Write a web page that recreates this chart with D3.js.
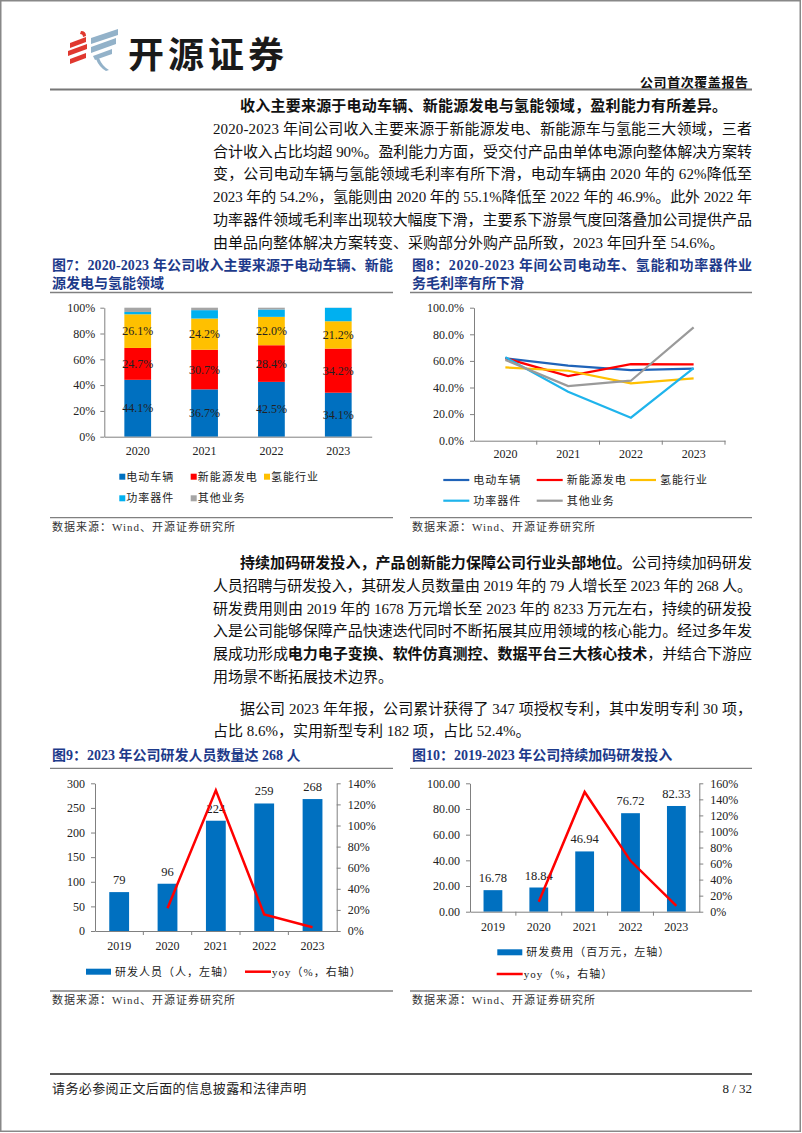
<!DOCTYPE html>
<html>
<head>
<meta charset="utf-8">
<script src="https://cdn.jsdelivr.net/npm/d3@7"></script>
<style>
  body { margin: 0; background: #fff; }
  svg { display: block; }
</style>
</head>
<body>
<svg id="page" width="802" height="1133"></svg>
<script>
// ---------- 数据 ----------
// 图7 收入结构（%）
const years7 = ["2020", "2021", "2022", "2023"];
const segNames7 = ["电动车辆", "新能源发电", "氢能行业", "功率器件", "其他业务"];
const ev7 = [44.1, 36.7, 42.5, 34.1];
const pv7 = [24.7, 30.7, 28.4, 34.2];
const h27 = [26.1, 24.2, 22.0, 21.2];
const pd7 = [1.8, 6.5, 5.7, 10.4];
const oth7 = [3.3, 1.9, 1.4, 0.1];

// 图8 毛利率（%）
const years8 = ["2020", "2021", "2022", "2023"];
const gmEv = [62.0, 56.4, 53.1, 54.2];
const gmPv = [62.0, 48.6, 57.6, 57.4];
const gmH2 = [55.1, 52.6, 43.1, 46.9];
const gmPd = [62.7, 36.8, 17.3, 54.6];
const gmOth = [60.7, 41.1, 45.1, 85.2];

// 图9 研发人员
const years9 = ["2019", "2020", "2021", "2022", "2023"];
const rdStaff = [79, 96, 224, 259, 268];
const rdStaffYoy = [null, 21.5, 133.3, 15.6, 3.5];

// 图10 研发费用（百万元）
const years10 = ["2019", "2020", "2021", "2022", "2023"];
const rdExp = [16.78, 18.84, 46.94, 76.72, 82.33];
const rdExpYoy = [null, 12.3, 149.2, 63.4, 7.3];

// ---------- 通用 ----------
const SERIF = '"Liberation Serif","Noto Sans CJK SC",serif';
const SANS = '"Noto Sans CJK SC","Noto Sans",sans-serif';
const NAVY = "#1d3a8a";
const AXIS = "#808080";
const svg = d3.select("#page").attr("font-family", SERIF);

function textLine(x, y, segs, o = {}) {
  const t = svg.append("text")
    .attr("x", x).attr("y", y)
    .attr("dominant-baseline", "central")
    .attr("font-size", o.size || 15)
    .attr("fill", o.fill || "#111");
  if (o.anchor) t.attr("text-anchor", o.anchor);
  if (o.width) t.attr("textLength", o.width).attr("lengthAdjust", "spacing");
  if (o.ls) t.attr("letter-spacing", o.ls);
  segs.forEach(s => t.append("tspan").attr("font-weight", s[1] ? "bold" : "normal").text(s[0]));
  return t;
}

function hline(x1, x2, y, color, w) {
  svg.append("line").attr("x1", x1).attr("x2", x2).attr("y1", y).attr("y2", y)
    .attr("stroke", color).attr("stroke-width", w);
}

function styleAxis(g) {
  g.attr("font-family", SERIF).attr("font-size", 12);
  g.select(".domain").attr("stroke", AXIS);
  g.selectAll(".tick line").attr("stroke", AXIS);
  g.selectAll(".tick text").attr("fill", "#222");
}

function boundaryTicks(g, x, y0) {
  const gap = (x.step() - x.bandwidth()) / 2;
  x.domain().forEach((d, i) => {
    if (i === 0) return;
    g.append("line").attr("x1", x(d) - gap).attr("x2", x(d) - gap)
      .attr("y1", y0).attr("y2", y0 + 4).attr("stroke", AXIS);
  });
}

// ---------- 页面框、页眉 ----------
svg.append("rect").attr("x", 0.75).attr("y", 0.75).attr("width", 799.5).attr("height", 1130.5)
  .attr("fill", "none").attr("stroke", "#888").attr("stroke-width", 1.5);

const logo = svg.append("g");
const red = "#e0382f", steel = "#93b2c9";
[[[70, 43], [86, 37], [86, 42], [70, 48]],
 [[68, 51], [87, 44], [87, 49], [68, 56]],
 [[70, 59], [86, 53], [86, 58], [70, 64]]].forEach(p =>
  logo.append("polygon").attr("points", p.join(" ")).attr("fill", red));
logo.append("path").attr("d", "M81,31 Q86,31 86,36 L83,37 Q83,34 80,34 Z").attr("fill", red);
[[[91, 38], [118, 29], [118, 35], [91, 44]],
 [[91, 47], [116, 38], [116, 44], [91, 53]],
 [[93, 56], [112, 49], [112, 54], [95, 60]]].forEach(p =>
  logo.append("polygon").attr("points", p.join(" ")).attr("fill", steel));
logo.append("path").attr("d", "M99,58 Q102,66 109,70 L106,71 Q99,67 96,59 Z").attr("fill", steel);

svg.append("text").attr("x", 128).attr("y", 52).attr("dominant-baseline", "central")
  .attr("font-family", SANS).attr("font-weight", "bold").attr("font-size", 36)
  .attr("fill", "#1a1a1a").attr("textLength", 156).attr("lengthAdjust", "spacing")
  .text("开源证券");

textLine(748, 82, [["公司首次覆盖报告", 1]], { size: 13, anchor: "end", width: 108 });
hline(50, 752, 89.5, "#777", 2);

// ---------- 正文 ----------
const para1 = [
  [240, 487, [["收入主要来源于电动车辆、新能源发电与氢能领域，盈利能力有所差异。", 1]]],
  [213, 539, [["2020-2023 年间公司收入主要来源于新能源发电、新能源车与氢能三大领域，三者", 0]]],
  [213, 539, [["合计收入占比均超 90%。盈利能力方面，受交付产品由单体电源向整体解决方案转", 0]]],
  [213, 539, [["变，公司电动车辆与氢能领域毛利率有所下滑，电动车辆由 2020 年的 62%降低至", 0]]],
  [213, 539, [["2023 年的 54.2%，氢能则由 2020 年的 55.1%降低至 2022 年的 46.9%。此外 2022 年", 0]]],
  [213, 539, [["功率器件领域毛利率出现较大幅度下滑，主要系下游景气度回落叠加公司提供产品", 0]]],
  [213, null, [["由单品向整体解决方案转变、采购部分外购产品所致，2023 年回升至 54.6%。", 0]]]
];
const para2 = [
  [240, 512, [["持续加码研发投入，产品创新能力保障公司行业头部地位。", 1], ["公司持续加码研发", 0]]],
  [213, 539, [["人员招聘与研发投入，其研发人员数量由 2019 年的 79 人增长至 2023 年的 268 人。", 0]]],
  [213, 539, [["研发费用则由 2019 年的 1678 万元增长至 2023 年的 8233 万元左右，持续的研发投", 0]]],
  [213, 539, [["入是公司能够保障产品快速迭代同时不断拓展其应用领域的核心能力。经过多年发", 0]]],
  [213, 539, [["展成功形成", 0], ["电力电子变换、软件仿真测控、数据平台三大核心技术", 1], ["，并结合下游应", 0]]],
  [213, null, [["用场景不断拓展技术边界。", 0]]]
];
const para3 = [
  [240, 512, [["据公司 2023 年年报，公司累计获得了 347 项授权专利，其中发明专利 30 项，", 0]]],
  [213, null, [["占比 8.6%，实用新型专利 182 项，占比 52.4%。", 0]]]
];
[[para1, 106], [para2, 563], [para3, 708.5]].forEach(([lines, y0]) =>
  lines.forEach((l, i) => textLine(l[0], y0 + i * 22.75, l[2], { width: l[1] })));

// ---------- 图表标题与来源 ----------
function chartFrame(x0, x1, titles, ty, uy, sy) {
  titles.forEach((t, i) => textLine(x0 + 2, ty + i * 18, [[t[0], 1]], { size: 14, fill: NAVY, width: t[1] }));
  hline(x0, x1, uy, "#808080", 1.3);
  hline(x0, x1, sy, "#808080", 1.3);
  textLine(x0 + 2, sy + 9, [["数据来源：Wind、开源证券研究所", 0]], { size: 11, fill: "#333", ls: 1 });
}
chartFrame(50, 393, [["图7：2020-2023 年公司收入主要来源于电动车辆、新能", 341], ["源发电与氢能领域", null]], 265, 292.5, 517.7);
chartFrame(410, 752, [["图8：2020-2023 年间公司电动车、氢能和功率器件业", 340], ["务毛利率有所下滑", null]], 265, 292.5, 517.7);
chartFrame(50, 393, [["图9：2023 年公司研发人员数量达 268 人", null]], 755, 768.3, 991);
chartFrame(410, 752, [["图10：2019-2023 年公司持续加码研发投入", null]], 755, 768.3, 991);

function legendText(g, x, y, txt) {
  g.append("text").attr("x", x).attr("y", y).attr("dominant-baseline", "central")
    .attr("font-size", 11).attr("letter-spacing", 1).attr("fill", "#222").text(txt);
}

// ---------- 图7 堆积柱 ----------
{
  const g = svg.append("g");
  const x = d3.scaleBand().domain(years7).range([104.3, 371.7]).paddingInner(0.6).paddingOuter(0.3);
  const y = d3.scaleLinear().domain([0, 100]).range([436.7, 307.7]);
  const colors = ["#0070C0", "#FF0000", "#FFC000", "#00B0F0", "#A5A5A5"];
  const series = [ev7, pv7, h27, pd7, oth7];
  const table = years7.map((yr, i) => {
    const o = { year: yr };
    segNames7.forEach((n, k) => o[n] = series[k][i]);
    return o;
  });
  const stacked = d3.stack().keys(segNames7)(table);
  g.selectAll("g.layer").data(stacked).join("g").attr("fill", (d, i) => colors[i])
    .selectAll("rect").data(d => d).join("rect")
    .attr("x", d => x(d.data.year)).attr("width", x.bandwidth())
    .attr("y", d => y(d[1])).attr("height", d => y(d[0]) - y(d[1]));
  stacked.slice(0, 3).forEach(layer => {
    g.selectAll(null).data(layer).join("text")
      .attr("x", d => x(d.data.year) + x.bandwidth() / 2)
      .attr("y", d => y((d[0] + d[1]) / 2))
      .attr("text-anchor", "middle").attr("dominant-baseline", "central")
      .attr("font-size", 12).attr("fill", "#222")
      .text(d => (d[1] - d[0]).toFixed(1) + "%");
  });
  g.append("g").attr("transform", "translate(104.3,0)")
    .call(d3.axisLeft(y).tickValues([0, 20, 40, 60, 80, 100]).tickFormat(d => d + "%")
      .tickSize(4).tickSizeOuter(0).tickPadding(5))
    .call(styleAxis);
  g.append("g").attr("transform", "translate(0,436.7)")
    .call(d3.axisBottom(x).tickSize(0).tickPadding(10))
    .call(styleAxis);

  const leg = [[119.3, 476.7], [190.7, 476.7], [264, 476.7], [119.3, 498.3], [190.7, 498.3]];
  segNames7.forEach((n, i) => {
    g.append("rect").attr("x", leg[i][0]).attr("y", leg[i][1] - 3).attr("width", 6).attr("height", 6).attr("fill", colors[i]);
    legendText(g, leg[i][0] + 7, leg[i][1], n);
  });
}

// ---------- 图8 折线 ----------
{
  const g = svg.append("g");
  const x = d3.scaleBand().domain(years8).range([474, 725]);
  const y = d3.scaleLinear().domain([0, 100]).range([440.7, 307.7]);
  const names = ["电动车辆", "新能源发电", "氢能行业", "功率器件", "其他业务"];
  const colors = ["#1f63b8", "#FF0000", "#FFC000", "#1fb4ec", "#9a9a9a"];
  const series = [gmEv, gmPv, gmH2, gmPd, gmOth];
  g.append("g").attr("transform", "translate(474,0)")
    .call(d3.axisLeft(y).tickValues([0, 20, 40, 60, 80, 100]).tickFormat(d => d.toFixed(1) + "%")
      .tickSize(4).tickSizeOuter(0).tickPadding(6))
    .call(styleAxis);
  g.append("g").attr("transform", "translate(0,440.7)")
    .call(d3.axisBottom(x).tickSize(0).tickPadding(9))
    .call(styleAxis);
  boundaryTicks(g, x, 440.7);
  g.append("line").attr("x1", 725).attr("x2", 725).attr("y1", 440.7).attr("y2", 444.7).attr("stroke", AXIS);
  const line = d3.line().x((d, i) => x(years8[i]) + x.bandwidth() / 2).y(d => y(d));
  series.forEach((s, i) => g.append("path").attr("d", line(s)).attr("fill", "none")
    .attr("stroke", colors[i]).attr("stroke-width", 2.2));
  const leg = [[443.3, 480], [536.7, 480], [630, 480], [443.3, 500.7], [536.7, 500.7]];
  names.forEach((n, i) => {
    g.append("line").attr("x1", leg[i][0]).attr("x2", leg[i][0] + 26).attr("y1", leg[i][1]).attr("y2", leg[i][1])
      .attr("stroke", colors[i]).attr("stroke-width", 2.2);
    legendText(g, leg[i][0] + 30, leg[i][1], n);
  });
}

// ---------- 柱 + 折线 双轴 ----------
function comboChart(cfg) {
  const g = svg.append("g");
  const x = d3.scaleBand().domain(cfg.years).range([cfg.x0, cfg.x1]).paddingInner(0.59).paddingOuter(0.295);
  const yL = d3.scaleLinear().domain([0, cfg.lMax]).range([cfg.yb, cfg.yt]);
  const yR = d3.scaleLinear().domain([0, cfg.rMax]).range([cfg.yb, cfg.yt]);
  g.selectAll("rect.bar").data(cfg.vals).join("rect")
    .attr("x", (d, i) => x(cfg.years[i])).attr("width", x.bandwidth())
    .attr("y", d => yL(d)).attr("height", d => cfg.yb - yL(d)).attr("fill", "#0070C0");
  g.selectAll("text.lbl").data(cfg.vals).join("text")
    .attr("x", (d, i) => x(cfg.years[i]) + x.bandwidth() / 2).attr("y", d => yL(d) - 12)
    .attr("text-anchor", "middle").attr("dominant-baseline", "central")
    .attr("font-size", 12.5).attr("fill", "#222").text(cfg.fmt);
  g.append("g").attr("transform", `translate(${cfg.x0},0)`)
    .call(d3.axisLeft(yL).tickValues(d3.range(0, cfg.lMax + 1, cfg.lStep)).tickFormat(cfg.lFmt)
      .tickSize(4).tickSizeOuter(0).tickPadding(6))
    .call(styleAxis);
  g.append("g").attr("transform", `translate(${cfg.x1},0)`)
    .call(d3.axisRight(yR).tickValues(d3.range(0, cfg.rMax + 1, 20)).tickFormat(d => d + "%")
      .tickSize(4).tickSizeOuter(0).tickPadding(7))
    .call(styleAxis);
  g.append("g").attr("transform", `translate(0,${cfg.yb})`)
    .call(d3.axisBottom(x).tickSize(0).tickPadding(cfg.xPad))
    .call(styleAxis);
  boundaryTicks(g, x, cfg.yb);
  const pts = cfg.yoy.map((v, i) => [v, i]).filter(p => p[0] !== null);
  g.append("path")
    .attr("d", d3.line().x(p => x(cfg.years[p[1]]) + x.bandwidth() / 2).y(p => yR(p[0]))(pts))
    .attr("fill", "none").attr("stroke", "#FF0000").attr("stroke-width", 2.5);
  g.append("rect").attr("x", cfg.leg[0][0]).attr("y", cfg.leg[0][1] - 3).attr("width", 25).attr("height", 6).attr("fill", "#0070C0");
  legendText(g, cfg.leg[0][0] + 29, cfg.leg[0][1], cfg.barName);
  g.append("line").attr("x1", cfg.leg[1][0]).attr("x2", cfg.leg[1][0] + 26)
    .attr("y1", cfg.leg[1][1]).attr("y2", cfg.leg[1][1]).attr("stroke", "#FF0000").attr("stroke-width", 2.5);
  legendText(g, cfg.leg[1][0] + 27, cfg.leg[1][1], "yoy（%，右轴）");
}

comboChart({
  years: years9, vals: rdStaff, yoy: rdStaffYoy,
  x0: 95, x1: 336.7, yb: 931, yt: 783.3, lMax: 300, lStep: 50, rMax: 140,
  lFmt: d => d, fmt: d => d, xPad: 10.5,
  barName: "研发人员（人，左轴）", leg: [[86, 971.7], [245, 971.7]]
});
comboChart({
  years: years10, vals: rdExp, yoy: rdExpYoy,
  x0: 470, x1: 699.3, yb: 911.7, yt: 783.3, lMax: 100, lStep: 20, rMax: 160,
  lFmt: d => d.toFixed(2), fmt: d => d.toFixed(2), xPad: 11,
  barName: "研发费用（百万元，左轴）", leg: [[497.3, 952.3], [496.7, 974]]
});

// ---------- 页脚 ----------
hline(50, 752, 1074, "#222", 1.5);
textLine(52, 1088, [["请务必参阅正文后面的信息披露和法律声明", 0]], { size: 13, fill: "#222", ls: 0.4 });
textLine(752, 1088, [["8 / 32", 0]], { size: 13, fill: "#222", anchor: "end" });
</script>
</body>
</html>
